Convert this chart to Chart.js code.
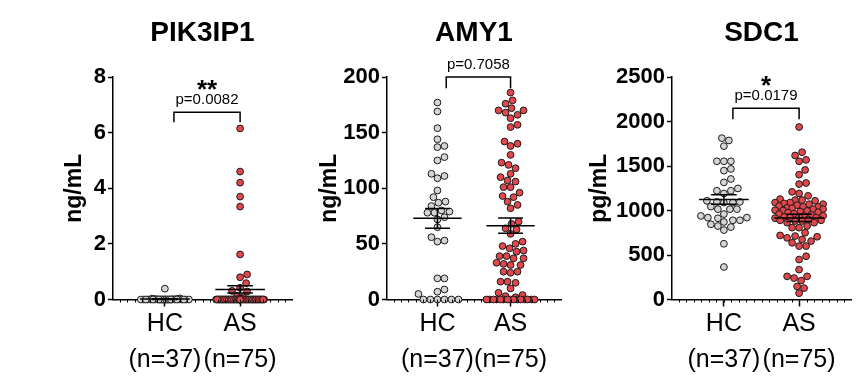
<!DOCTYPE html>
<html>
<head>
<meta charset="utf-8">
<script src="https://cdn.jsdelivr.net/npm/chart.js@4.4.1/dist/chart.umd.min.js"></script>
<style>
  body { margin: 0; background: #fff; }
  #wrap { position: relative; width: 864px; height: 386px; background: #fff; }
  canvas { position: absolute; top: 0; }
</style>
</head>
<body>
<div id="wrap">
  <canvas id="chart1" width="300" height="386" style="left:0px"></canvas>
  <canvas id="chart2" width="280" height="386" style="left:300px"></canvas>
  <canvas id="chart3" width="284" height="386" style="left:580px"></canvas>
</div>
<script>
// categories
const groups = ["HC", "AS"];
const groupN = ["(n=37)", "(n=75)"];

// PIK3IP1 (ng/mL)
const pik3ip1HC = [0.39, 0.04, 0.03, 0.02, 0.02, 0.01, 0.01, 0.01,
  0, 0, 0, 0, 0, 0, 0, 0, 0, 0, 0, 0, 0, 0, 0, 0, 0, 0, 0, 0, 0, 0, 0, 0, 0, 0, 0, 0, 0];
const pik3ip1AS = [6.15, 4.6, 4.2, 3.7, 3.34, 1.62, 0.9, 0.8, 0.59, 0.42, 0.31, 0.29, 0.12, 0.08, 0.05,
  0, 0, 0, 0, 0, 0, 0, 0, 0, 0, 0, 0, 0, 0, 0, 0, 0, 0, 0, 0,
  0, 0, 0, 0, 0, 0, 0, 0, 0, 0, 0, 0, 0, 0, 0, 0, 0, 0, 0, 0,
  0, 0, 0, 0, 0, 0, 0, 0, 0, 0, 0, 0, 0, 0, 0, 0, 0, 0, 0, 0];

// AMY1 (ng/mL)
const amy1HC = [177, 169, 154, 144, 138, 137, 128, 125, 113, 111, 109, 98, 92, 88, 87, 84, 80, 79, 78, 78,
  74, 72, 65, 56, 53, 52, 19, 19, 9, 7, 5, 0, 0, 0, 0, 0, 0];
const amy1AS = [186, 179, 176, 172, 170, 170, 168, 166, 163, 157, 155, 142, 140, 138, 130, 123, 121, 118, 113, 110,
  107, 106, 101, 101, 96, 93, 92, 88, 85, 82, 70, 68, 64, 63, 59, 52, 50, 48, 46, 44,
  43, 39, 39, 37, 37, 33, 32, 31, 31, 25, 25, 24, 16, 16, 15, 10, 6, 4, 3, 2,
  0, 0, 0, 0, 0, 0, 0, 0, 0, 0, 0, 0, 0, 0, 0];

// SDC1 (pg/mL)
const sdc1HC = [1813, 1787, 1723, 1553, 1553, 1553, 1467, 1448, 1354, 1316, 1248, 1222, 1222, 1191, 1109, 1097, 1097, 1089, 1089, 1044,
  1015, 1015, 1015, 960, 939, 920, 920, 913, 890, 890, 871, 845, 826, 814, 780, 626, 365];
const sdc1AS = [1938, 1655, 1618, 1569, 1553, 1456, 1403, 1309, 1297, 1210, 1191, 1165, 1128, 1117, 1117, 1109, 1089, 1089, 1080, 1071,
  1071, 1060, 1050, 1041, 1041, 1030, 1026, 1015, 1015, 1003, 1000, 995, 988, 980, 976, 965, 960, 950, 940, 939,
  928, 928, 920, 920, 913, 900, 890, 890, 882, 882, 863, 863, 826, 807, 807, 750, 720, 713, 705, 693,
  675, 656, 637, 600, 600, 486, 449, 336, 260, 260, 241, 212, 147, 128, 71];

const titles = ["PIK3IP1", "AMY1", "SDC1"];
const units = ["ng/mL", "ng/mL", "pg/mL"];
const yMax = [8, 200, 2500];
const yStep = [2, 50, 500];
const pValues = ["p=0.0082", "p=0.7058", "p=0.0179"];
const stars = ["**", "", "*"];

Chart.defaults.font.family = "'Liberation Sans', Arial, sans-serif";
Chart.defaults.color = "#000";

const hcFill = "#d4d4d4";
const asFill = "#e2474b";

function stats(arr) {
  const n = arr.length;
  const mean = arr.reduce((a, b) => a + b, 0) / n;
  const sd = Math.sqrt(arr.reduce((a, b) => a + (b - mean) ** 2, 0) / (n - 1));
  return { mean, sem: sd / Math.sqrt(n) };
}

// mean bar + sem error bar, segments split by null gaps
function meanLines(arr, cx) {
  const s = stats(arr);
  const hi = s.mean + s.sem, lo = s.mean - s.sem;
  return [
    { x: cx - 0.33, y: s.mean }, { x: cx + 0.33, y: s.mean }, { x: cx, y: null },
    { x: cx - 0.17, y: hi }, { x: cx + 0.17, y: hi }, { x: cx, y: null },
    { x: cx - 0.17, y: lo }, { x: cx + 0.17, y: lo }, { x: cx, y: null },
    { x: cx, y: lo }, { x: cx, y: hi },
  ];
}

// simple beeswarm in pixel space, capped width (overlaps when crowded)
function swarm(chart, dsIndex, values, cx) {
  const xs = chart.scales.x, ys = chart.scales.y;
  const pxPerUnit = xs.getPixelForValue(cx + 1) - xs.getPixelForValue(cx);
  const d = 7, maxHalf = 24;
  const placed = [];
  const offs = new Array(values.length);
  const order = values.map((v, i) => i).sort((a, b) => values[a] - values[b]);
  for (const i of order) {
    const py = ys.getPixelForValue(values[i]);
    let best = 0, bestDist = -1, done = false;
    for (let k = 0; k <= maxHalf && !done; k++) {
      for (const dx of (k === 0 ? [0] : [k, -k])) {
        let minD = Infinity;
        for (const p of placed) minD = Math.min(minD, Math.hypot(p.dx - dx, p.py - py));
        if (minD >= d) { best = dx; done = true; break; }
        if (minD > bestDist) { bestDist = minD; best = dx; }
      }
    }
    placed.push({ dx: best, py });
    offs[i] = best;
  }
  chart.data.datasets[dsIndex].data = values.map((v, i) => ({ x: cx + offs[i] / pxPerUnit, y: v }));
}

const minorTicks = {
  id: "minorTicks",
  afterDraw(chart) {
    const { ctx, chartArea, scales: { x } } = chart;
    ctx.save();
    ctx.strokeStyle = "#000";
    ctx.lineWidth = 1;
    for (let k = Math.ceil(x.min * 10); k <= Math.floor(x.max * 10); k++) {
      const px = Math.round(x.getPixelForValue(k / 10)) + 0.5;
      ctx.beginPath();
      ctx.moveTo(px, chartArea.bottom);
      ctx.lineTo(px, chartArea.bottom + 3);
      ctx.stroke();
    }
    ctx.restore();
  },
};

function bracket(idx, top, leg) {
  return {
    id: "bracket",
    afterDraw(chart) {
      const { ctx, scales: { x, y } } = chart;
      const x1 = x.getPixelForValue(1.12), x2 = x.getPixelForValue(2);
      const yTop = y.getPixelForValue(top), yLeg = y.getPixelForValue(leg);
      ctx.save();
      ctx.strokeStyle = "#000";
      ctx.lineWidth = 1.5;
      ctx.beginPath();
      ctx.moveTo(x1, yLeg);
      ctx.lineTo(x1, yTop);
      ctx.lineTo(x2, yTop);
      ctx.lineTo(x2, yLeg);
      ctx.stroke();
      ctx.fillStyle = "#000";
      ctx.textAlign = "center";
      ctx.textBaseline = "alphabetic";
      ctx.font = "15px 'Liberation Sans', Arial, sans-serif";
      ctx.fillText(pValues[idx], (x1 + x2) / 2, yTop - 8);
      if (stars[idx]) {
        ctx.font = "bold 26px 'Liberation Sans', Arial, sans-serif";
        ctx.fillText(stars[idx], (x1 + x2) / 2, yTop - 14);
      }
      ctx.restore();
    },
  };
}

function makePanel(id, idx, hc, as, lay) {
  const dot = { pointRadius: 3.4, pointBorderWidth: 1, pointBorderColor: "#1a1a1a", clip: false, order: 1 };
  const bar = { type: "line", pointRadius: 0, borderColor: "#000", borderWidth: 1.5, spanGaps: false, clip: false, order: 0 };
  const chart = new Chart(document.getElementById(id), {
    type: "scatter",
    data: {
      datasets: [
        { ...bar, data: meanLines(hc, 1) },
        { ...bar, data: meanLines(as, 2) },
        { ...dot, data: hc.map((v) => ({ x: 1, y: v })), pointBackgroundColor: hcFill },
        { ...dot, data: as.map((v) => ({ x: 2, y: v })), pointBackgroundColor: asFill },
      ],
    },
    options: {
      responsive: false,
      animation: false,
      layout: { padding: { left: 0, right: lay.padRight, top: 0, bottom: 8.5 } },
      plugins: {
        legend: { display: false },
        tooltip: { enabled: false },
        title: {
          display: true,
          text: titles[idx],
          fullSize: false,
          font: { size: 28, weight: "bold" },
          padding: { top: 16, bottom: 27.4 },
        },
      },
      scales: {
        x: {
          type: "linear",
          min: 0.31,
          max: 2.69,
          afterBuildTicks: (s) => { s.ticks = [{ value: 1 }, { value: 2 }]; },
          ticks: {
            callback: (v) => [groups[v - 1], groupN[v - 1]],
            font: { size: 25, lineHeight: 1.42 },
            padding: 0,
            maxRotation: 0,
            autoSkip: false,
          },
          grid: { drawOnChartArea: false, tickLength: 7, tickWidth: 1.5, tickColor: "#000" },
          border: { color: "#000", width: 1.5 },
        },
        y: {
          min: 0,
          max: yMax[idx],
          ticks: {
            stepSize: yStep[idx],
            callback: (v) => String(v),
            font: { size: 22, weight: "bold" },
            padding: 2,
          },
          grid: { drawOnChartArea: false, tickLength: 5, tickWidth: 1.5, tickColor: "#000" },
          border: { color: "#000", width: 1.5 },
          title: {
            display: true,
            text: units[idx],
            font: { size: 23, weight: "bold" },
            padding: { top: lay.titlePad, bottom: 0 },
          },
          afterFit: (s) => { s.width = lay.yWidth; },
        },
      },
    },
    plugins: [minorTicks, bracket(idx, lay.top, lay.leg)],
  });
  swarm(chart, 2, hc, 1);
  swarm(chart, 3, as, 2);
  chart.update("none");
}

makePanel("chart1", 0, pik3ip1HC, pik3ip1AS, { yWidth: 113, padRight: 8, titlePad: 61, top: 6.73, leg: 6.37 });
makePanel("chart2", 1, amy1HC, amy1AS, { yWidth: 87, padRight: 19, titlePad: 16, top: 200, leg: 190 });
makePanel("chart3", 2, sdc1HC, sdc1AS, { yWidth: 92, padRight: 13, titlePad: 6, top: 2149, leg: 2025 });
</script>
</body>
</html>
